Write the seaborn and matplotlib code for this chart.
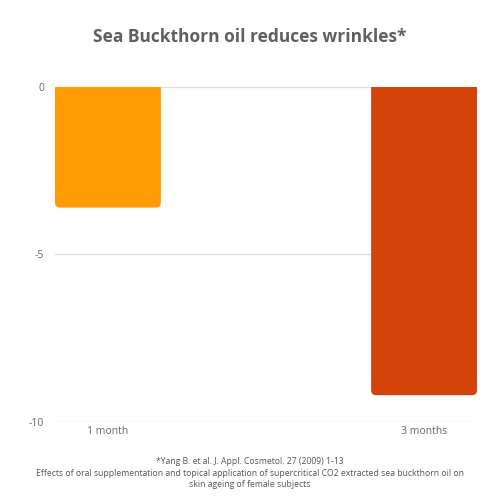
import matplotlib
matplotlib.use('Agg')
import matplotlib.pyplot as plt
from matplotlib.patches import FancyBboxPatch
import seaborn as sns
import pandas as pd

# Chart data
periods = ['1 month', '3 months']
wrinkle_change = [-3.6, -9.2]
bar_colors = ['#FF9C05', '#D44309']
y_ticks = [0, -5, -10]

df = pd.DataFrame({'Period': periods, 'Change': wrinkle_change})

sns.set_theme(style='white')
plt.rcParams['font.family'] = ['Open Sans', 'DejaVu Sans']

fig = plt.figure(figsize=(5, 5), dpi=100)
ax = fig.add_axes([0.11, 0.156, 0.844, 0.67])

sns.barplot(x='Period', y='Change', data=df, hue='Period', palette=bar_colors,
            width=0.335, legend=False, ax=ax, saturation=1)

ax.set_ylim(-10, 0)
ax.set_xlim(-0.1675, 1.1675)

# round the bottom corners of the bars
pad = 0.016
aspect = 9.4
for p in list(ax.patches):
    x, w = p.get_x(), p.get_width()
    top = p.get_y()
    bottom = top + p.get_height()
    rounded = FancyBboxPatch((x + pad, bottom + pad * aspect), w - 2 * pad,
                             (top - bottom) - 2 * pad * aspect + 1,
                             boxstyle=f'round,pad={pad}', mutation_aspect=aspect,
                             facecolor=p.get_facecolor(), edgecolor='none', zorder=2)
    p.remove()
    ax.add_patch(rounded)

ax.set_yticks(y_ticks)
ax.set_yticklabels([str(t) for t in y_ticks])
for t in y_ticks:
    ax.axhline(t, color='#DDDDDD', lw=0.9, zorder=0)
ax.set_xlabel('')
ax.set_ylabel('')
sns.despine(ax=ax, left=True, bottom=True, top=True, right=True)
ax.tick_params(axis='both', length=0, labelsize=7.5, colors='#666666')
ax.tick_params(axis='y', pad=8)
ax.tick_params(axis='x', pad=3)

fig.text(0.5, 0.925, 'Sea Buckthorn oil reduces wrinkles*', ha='center', va='center',
         fontsize=12.5, fontweight='bold', color='#5F5F5F')

foot = ('*Yang B. et al. J. Appl. Cosmetol. 27 (2009) 1-13\n'
        'Effects of oral supplementation and topical application of supercritical CO2 extracted sea buckthorn oil on\n'
        'skin ageing of female subjects')
fig.text(0.5, 0.054, foot, ha='center', va='center', fontsize=6.2, color='#555555', linespacing=1.35)

plt.savefig('out.png', dpi=100)
